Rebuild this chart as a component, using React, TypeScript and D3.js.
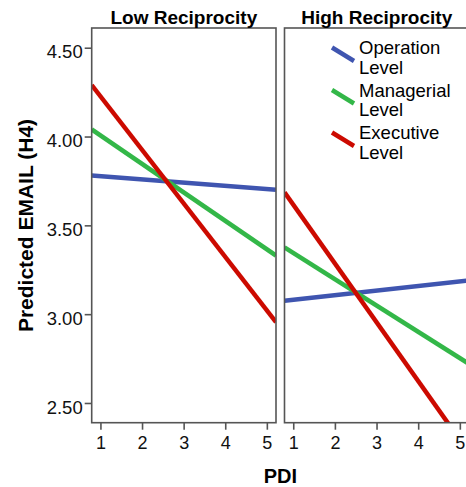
import React, { useEffect, useRef } from 'react'
import * as d3 from 'd3'

// chart values
const panels = ['Low Reciprocity', 'High Reciprocity']
const levels = ['Operation Level', 'Managerial Level', 'Executive Level']
const colors = ['#3f55b0', '#33b748', '#cc0a00']
const pdiRange = [0.79, 5.22]
const lowStart = [3.78, 4.04, 4.29]
const lowEnd = [3.70, 3.33, 2.955]
const highStart = [3.075, 3.376, 3.686]
const highEnd = [3.19, 2.72, 2.22]
const yTicks = [2.5, 3.0, 3.5, 4.0, 4.5]
const xTicks = [1, 2, 3, 4, 5]

const App = () => {
  const ref = useRef<SVGSVGElement>(null)

  useEffect(() => {
    const svg = d3.select(ref.current)
    svg.selectAll('*').remove()

    const w = 466
    const h = 487
    const top = 28
    const bottom = 422.7
    const panelX = [[91.7, 276], [284.5, 469]]
    const font = 'Arial, "Liberation Sans", sans-serif'

    const y = d3.scaleLinear().domain([2.389, 4.611]).range([bottom, top])

    svg.attr('width', w).attr('height', h).style('font-family', font)

    const series = [
      levels.map((l, i) => [[pdiRange[0], lowStart[i]], [pdiRange[1], lowEnd[i]]]),
      levels.map((l, i) => [[pdiRange[0], highStart[i]], [pdiRange[1], highEnd[i]]]),
    ]

    panels.forEach((p, pi) => {
      const x = d3.scaleLinear().domain(pdiRange).range(panelX[pi])
      const g = svg.append('g')

      g.append('clipPath').attr('id', 'clip' + pi)
        .append('rect').attr('x', x.range()[0]).attr('y', top)
        .attr('width', x.range()[1] - x.range()[0]).attr('height', bottom - top)

      const line = d3.line<number[]>().x(d => x(d[0])).y(d => y(d[1]))
      g.append('g').attr('clip-path', `url(#clip${pi})`)
        .selectAll('path').data(series[pi]).join('path')
        .attr('d', d => line(d))
        .attr('fill', 'none')
        .attr('stroke', (d, i) => colors[i])
        .attr('stroke-width', 4.5)

      // frame
      g.append('rect').attr('x', x.range()[0]).attr('y', top)
        .attr('width', x.range()[1] - x.range()[0]).attr('height', bottom - top)
        .attr('fill', 'none').attr('stroke', '#555').attr('stroke-width', 1.6)

      const xa = g.append('g').attr('transform', `translate(0,${bottom})`)
        .call(d3.axisBottom(x).tickValues(xTicks).tickSize(7).tickPadding(7).tickFormat(d3.format('d')))
      xa.select('.domain').remove()
      xa.selectAll('line').attr('stroke', '#555').attr('stroke-width', 1.6)
      xa.selectAll('text').attr('font-size', 18).attr('font-family', font).attr('fill', '#111')

      g.append('text').text(p)
        .attr('x', (x.range()[0] + x.range()[1]) / 2).attr('y', 24)
        .attr('text-anchor', 'middle').attr('font-weight', 'bold').attr('font-size', 19)
    })

    const ya = svg.append('g').attr('transform', `translate(${panelX[0][0]},0)`)
      .call(d3.axisLeft(y).tickValues(yTicks).tickSize(7).tickPadding(2).tickFormat(d3.format('.2f')))
    ya.select('.domain').remove()
    ya.selectAll('line').attr('stroke', '#555').attr('stroke-width', 1.6)
    ya.selectAll('text').attr('font-size', 18.5).attr('font-family', font).attr('dy', '0.55em').attr('fill', '#111')

    svg.append('text').text('Predicted EMAIL (H4)')
      .attr('transform', `translate(33, 225.5) rotate(-90)`)
      .attr('text-anchor', 'middle').attr('font-weight', 'bold').attr('font-size', 21)

    svg.append('text').text('PDI')
      .attr('x', (panelX[0][0] + panelX[1][1]) / 2).attr('y', 482.7)
      .attr('text-anchor', 'middle').attr('font-weight', 'bold').attr('font-size', 20)

    // legend
    const lg = svg.append('g').attr('transform', 'translate(332, 47.5)')
    levels.forEach((l, i) => {
      const item = lg.append('g').attr('transform', `translate(0, ${i * 42.5})`)
      item.append('line').attr('x1', 0).attr('y1', 0).attr('x2', 22).attr('y2', 13.5)
        .attr('stroke', colors[i]).attr('stroke-width', 4.5)
      l.split(' ').forEach((word, k) => {
        item.append('text').text(word)
          .attr('x', 27).attr('y', 6.5 + k * 19.5)
          .attr('font-size', 18.5)
      })
    })
  }, [])

  return (
    <svg ref={ref} style={{ position: 'absolute', left: 0, top: 0 }}></svg>
  )
}

export default App
